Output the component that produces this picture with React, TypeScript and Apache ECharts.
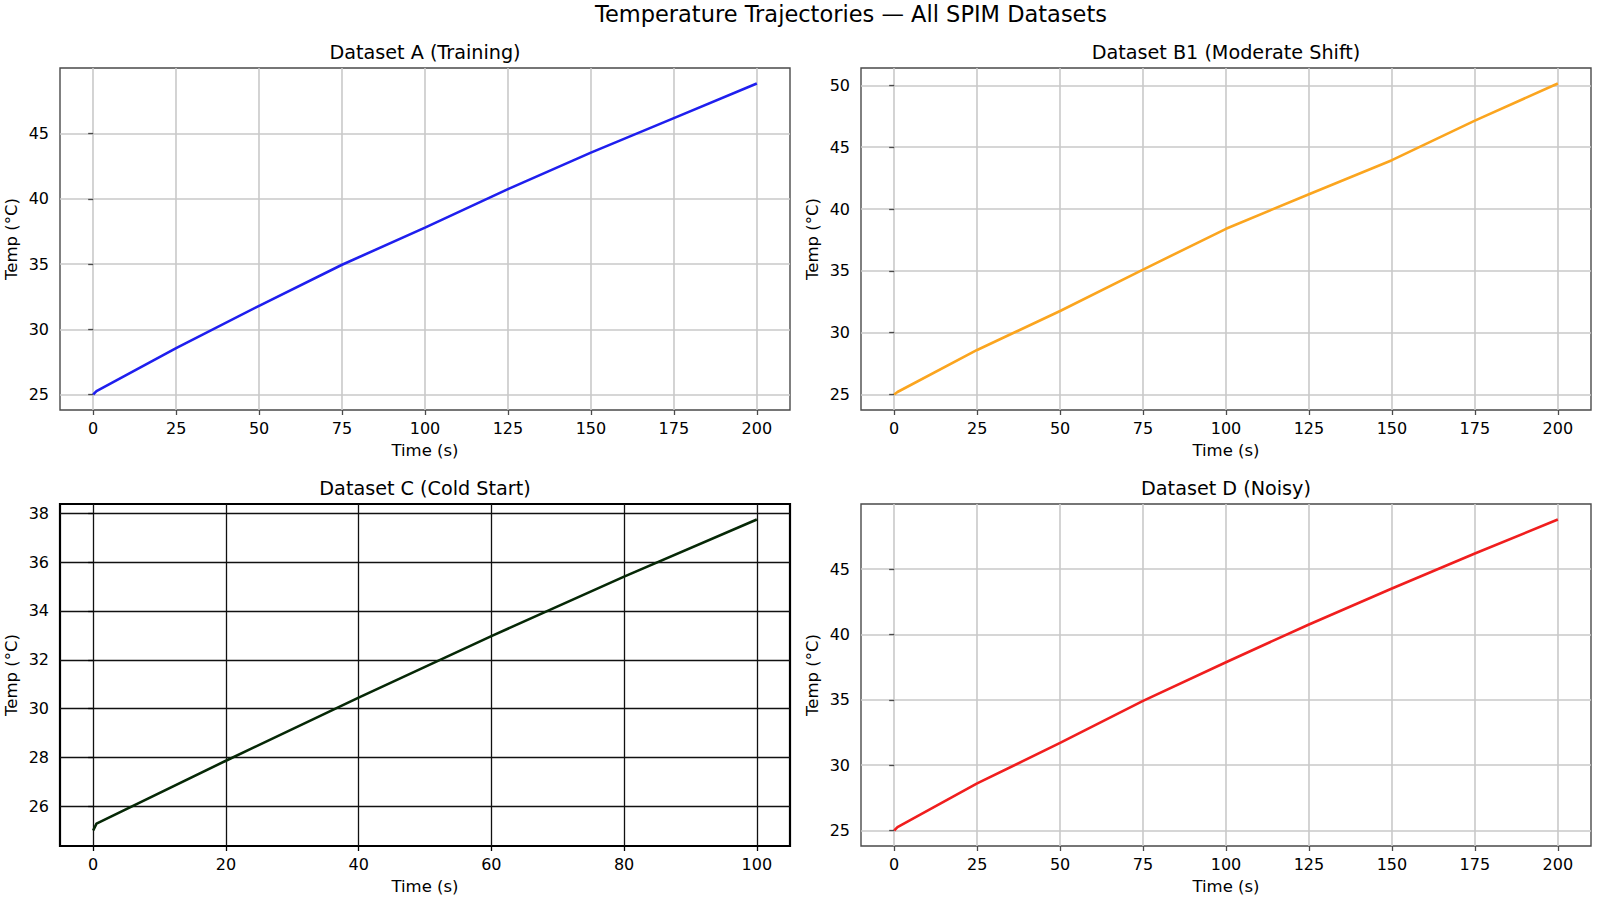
import { useRef, useEffect } from "react"
import * as echarts from "echarts"

// time axes (s)
const timeAB = [0, 1, 25, 50, 75, 100, 125, 150, 175, 200]
const timeC = [0, 0.5, 20, 40, 60, 80, 100]

// temperatures (°C)
const tempA = [25.0, 25.25, 28.55, 31.8, 34.95, 37.8, 40.75, 43.55, 46.2, 48.85]
const tempB1 = [25.0, 25.2, 28.6, 31.75, 35.1, 38.4, 41.2, 43.95, 47.15, 50.15]
const tempC = [25.0, 25.28, 27.86, 30.45, 32.97, 35.41, 37.75]
const tempD = [25.0, 25.25, 28.6, 31.7, 34.92, 37.88, 40.77, 43.52, 46.2, 48.8]

// tick labels
const xTicksAB = [0, 25, 50, 75, 100, 125, 150, 175, 200]
const xTicksC = [0, 20, 40, 60, 80, 100]
const yTicksA = [25, 30, 35, 40, 45]
const yTicksB1 = [25, 30, 35, 40, 45, 50]
const yTicksC = [26, 28, 30, 32, 34, 36, 38]
const yTicksD = [25, 30, 35, 40, 45]

const mainTitle = "Temperature Trajectories — All SPIM Datasets"
const panelTitles = ["Dataset A (Training)", "Dataset B1 (Moderate Shift)", "Dataset C (Cold Start)", "Dataset D (Noisy)"]

const FONT = "DejaVu Sans"

// matplotlib-like 5% margins
function padRange(arr: number[]) {
  const lo = Math.min(...arr)
  const hi = Math.max(...arr)
  const r = hi - lo
  return [lo - 0.05 * r, hi + 0.05 * r]
}

const panels = [
  { t: timeAB, y: tempA, xt: xTicksAB, yt: yTicksA, color: "#1f1fee", dark: false, left: 60, top: 68 },
  { t: timeAB, y: tempB1, xt: xTicksAB, yt: yTicksB1, color: "#fba51f", dark: false, left: 861, top: 68 },
  { t: timeC, y: tempC, xt: xTicksC, yt: yTicksC, color: "#062806", dark: true, left: 60, top: 504 },
  { t: timeAB, y: tempD, xt: xTicksAB, yt: yTicksD, color: "#f01e1e", dark: false, left: 861, top: 504 },
]
const W = 730
const H = 342

export default function App() {
  const chartRef = useRef<HTMLDivElement>(null)

  useEffect(() => {
    if (!chartRef.current) return
    const chart = echarts.init(chartRef.current, null, { renderer: "svg" })

    const grid: any[] = []
    const xAxis: any[] = []
    const yAxis: any[] = []
    const series: any[] = []
    const graphic: any[] = [
      {
        type: "text",
        x: 851,
        y: 14,
        style: { text: mainTitle, fontSize: 22.5, fontFamily: FONT, fill: "#000", align: "center", verticalAlign: "middle" },
      },
    ]

    panels.forEach((p, i) => {
      const spine = p.dark ? "#000" : "#4a4a4a"
      const gridColor = p.dark ? "#111" : "#c9c9c9"
      const xr = padRange(p.t)
      const yr = padRange(p.y)
      grid.push({
        left: p.left,
        top: p.top,
        width: W,
        height: H,
        show: true,
        backgroundColor: "#fff",
        borderColor: spine,
        borderWidth: p.dark ? 2.2 : 1.4,
      })
      xAxis.push({
        type: "value",
        gridIndex: i,
        min: xr[0],
        max: xr[1],
        name: "Time (s)",
        nameLocation: "middle",
        nameGap: 32,
        nameTextStyle: { fontSize: 16.5, fontFamily: FONT, color: "#000" },
        axisLine: { show: false },
        axisTick: { show: true, length: 5, customValues: p.xt, lineStyle: { color: spine, width: 1.3 } },
        axisLabel: { customValues: p.xt, fontSize: 16, fontFamily: FONT, color: "#000", margin: 10 },
        splitLine: { show: true, lineStyle: { color: gridColor, width: p.dark ? 1.3 : 1.6 } },
      })
      yAxis.push({
        type: "value",
        gridIndex: i,
        min: yr[0],
        max: yr[1],
        name: "Temp (°C)",
        nameLocation: "middle",
        nameGap: 40,
        nameTextStyle: { fontSize: 16.5, fontFamily: FONT, color: "#000" },
        axisLine: { show: false },
        axisTick: { show: true, length: 5, customValues: p.yt, lineStyle: { color: spine, width: 1.3 } },
        axisLabel: { customValues: p.yt, fontSize: 16, fontFamily: FONT, color: "#000", margin: 11 },
        splitLine: { show: true, lineStyle: { color: gridColor, width: p.dark ? 1.3 : 1.6 } },
      })
      series.push({
        type: "line",
        xAxisIndex: i,
        yAxisIndex: i,
        data: p.t.map((t, k) => [t, p.y[k]]),
        showSymbol: false,
        lineStyle: { color: p.color, width: 2.6 },
        itemStyle: { color: p.color },
        z: 5,
      })
      graphic.push({
        type: "text",
        x: p.left + W / 2,
        y: p.top - 16,
        style: { text: panelTitles[i], fontSize: 19.2, fontFamily: FONT, fill: "#000", align: "center", verticalAlign: "middle" },
      })
    })

    chart.setOption({
      animation: false,
      backgroundColor: "#fff",
      textStyle: { fontFamily: FONT },
      grid,
      xAxis,
      yAxis,
      series,
      graphic,
    })

    const handleResize = () => chart.resize()
    window.addEventListener("resize", handleResize)
    return () => {
      window.removeEventListener("resize", handleResize)
      chart.dispose()
    }
  }, [])

  return <div ref={chartRef} style={{ position: "fixed", left: 0, top: 0, width: "1598px", height: "900px" }} />
}
